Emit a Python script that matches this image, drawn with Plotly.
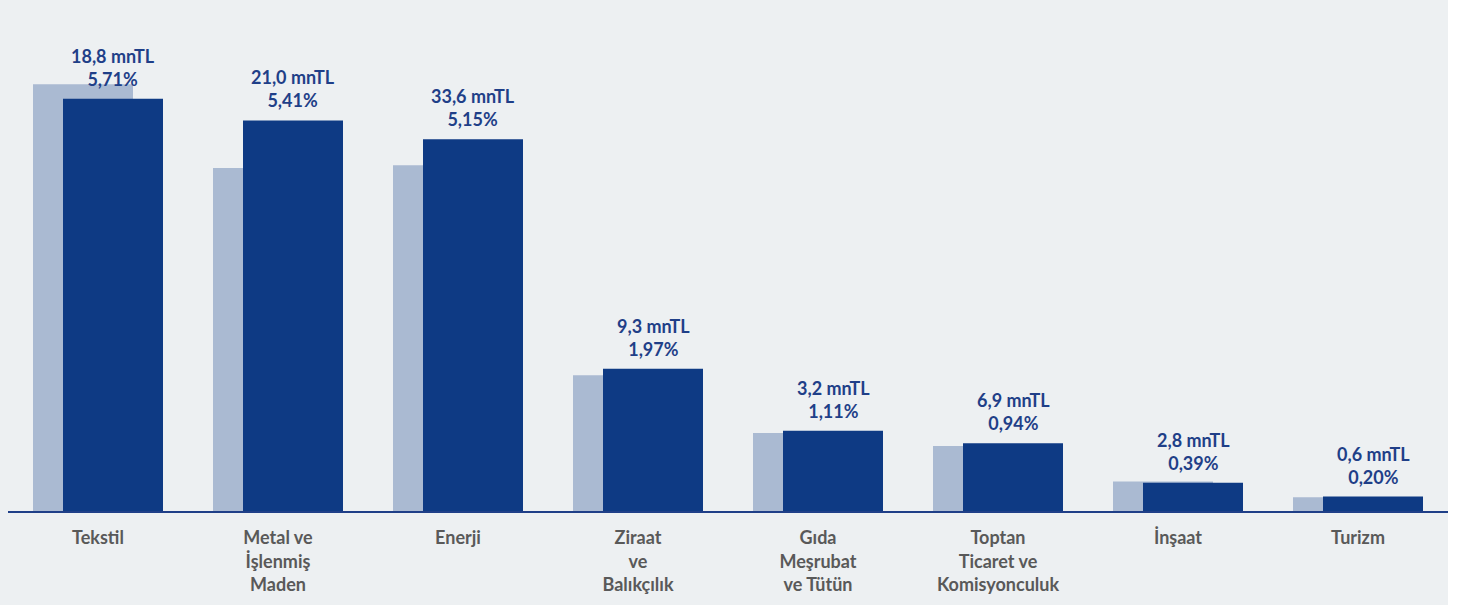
import plotly.graph_objects as go

categories = ["Tekstil", "Metal ve<br>İşlenmiş<br>Maden", "Enerji", "Ziraat<br>ve<br>Balıkçılık",
              "Gıda<br>Meşrubat<br>ve Tütün", "Toptan<br>Ticaret ve<br>Komisyonculuk", "İnşaat", "Turizm"]
prev_share = [5.91, 4.75, 4.79, 1.88, 1.08, 0.90, 0.41, 0.19]
curr_share = [5.71, 5.41, 5.15, 1.97, 1.11, 0.94, 0.39, 0.20]
amount_labels = ["18,8 mnTL", "21,0 mnTL", "33,6 mnTL", "9,3 mnTL", "3,2 mnTL", "6,9 mnTL", "2,8 mnTL", "0,6 mnTL"]
pct_labels = ["5,71%", "5,41%", "5,15%", "1,97%", "1,11%", "0,94%", "0,39%", "0,20%"]

BG = "#edf0f2"
LIGHT = "#aabad2"
DARK = "#0e3a84"
LABEL = "#1f3f88"
GRAY = "#595959"

x = list(range(len(categories)))
bw = 100 / 180
light_off = -65 / 180
dark_off = -35 / 180

fig = go.Figure()
fig.add_trace(go.Bar(x=x, y=prev_share, width=bw, offset=light_off, marker_color=LIGHT,
                     marker_line_width=0, hoverinfo="skip"))
fig.add_trace(go.Bar(x=x, y=curr_share, width=bw, offset=dark_off, marker_color=DARK,
                     marker_line_width=0, hoverinfo="skip"))

for i, v in enumerate(curr_share):
    fig.add_annotation(x=i + dark_off + bw / 2, y=v, xref="x", yref="y",
                       text=f"{amount_labels[i]}<br>{pct_labels[i]}", showarrow=False,
                       yanchor="bottom", xanchor="center", yshift=7,
                       font=dict(family="Lato", size=18, color=LABEL, weight="bold"))

# white strips outside the gray panel (right and bottom)
fig.add_shape(type="rect", xref="paper", yref="paper", x0=(1448 - 8) / 1440, x1=1.2, y0=-0.5, y1=1.5,
              fillcolor="white", line_width=0, layer="below")
fig.add_shape(type="rect", xref="paper", yref="paper", x0=-0.1, x1=1.2, y0=-(605 - 511) / 501, y1=-0.5,
              fillcolor="white", line_width=0, layer="below")

fig.update_layout(
    width=1462, height=609,
    barmode="overlay",
    showlegend=False,
    paper_bgcolor=BG, plot_bgcolor=BG,
    margin=dict(l=8, r=14, t=10, b=98),
    xaxis=dict(range=[-0.5, 7.5], tickvals=x, ticktext=categories, showgrid=False, zeroline=False,
               showline=True, linecolor=LABEL, linewidth=1.5, ticks="outside", ticklen=10,
               tickcolor="rgba(0,0,0,0)",
               tickfont=dict(family="Lato", size=18, color=GRAY, weight="bold"), fixedrange=True),
    yaxis=dict(range=[0, 501 / 72.2], visible=False, fixedrange=True),
)

fig.write_html("out.html", config={"displayModeBar": False},
               post_script="document.body.style.margin='0';document.body.style.background='white';")
